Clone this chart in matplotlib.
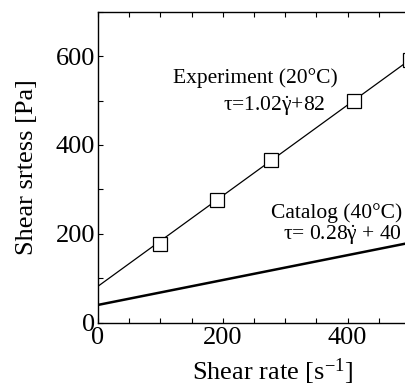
import matplotlib
matplotlib.use("Agg")
import matplotlib.pyplot as plt
from matplotlib.ticker import MultipleLocator

plt.rcParams['font.family'] = ['Liberation Serif', 'DejaVu Serif']
plt.rcParams['mathtext.fontset'] = 'custom'
plt.rcParams['mathtext.rm'] = 'Liberation Serif'
plt.rcParams['mathtext.it'] = 'Liberation Serif:italic'

# experiment points (20 C)
exp_rate = [100, 190, 278, 410, 500]
exp_stress = [178, 276, 367, 500, 592]

# fitted / catalog lines, end points
line_rate = [0, 500]
exp_line = [82, 592]
cat_line = [40, 180]

fig = plt.figure(figsize=(4.06, 3.90), dpi=100)
ax = fig.add_axes([0.2414, 0.1726, 0.7685, 0.7974])

ax.plot(line_rate, exp_line, color='black', lw=0.9, zorder=2)
ax.plot(exp_rate, exp_stress, 's', ms=9.5, mfc='white', mec='black', mew=0.9, zorder=3, clip_on=False)
ax.plot(line_rate, cat_line, color='black', lw=1.8, zorder=2)

ax.set_xlim(0, 500)
ax.set_ylim(0, 700)
ax.xaxis.set_major_locator(MultipleLocator(200))
ax.xaxis.set_minor_locator(MultipleLocator(50))
ax.yaxis.set_major_locator(MultipleLocator(200))
ax.yaxis.set_minor_locator(MultipleLocator(100))
ax.tick_params(which='both', direction='in', top=True, right=True, length=3.6, width=0.8, labelsize=19)
ax.tick_params(axis='x', pad=3)
ax.tick_params(axis='y', pad=2)
for s in ax.spines.values():
    s.set_linewidth(1.0)

ax.set_xlabel(r'Shear rate [s$^{-1}$]', fontsize=19)
ax.xaxis.set_label_coords(0.559, -0.11)
ax.set_ylabel('Shear srtess [Pa]', fontsize=19, labelpad=13)

ax.text(252, 540, 'Experiment (20°C)', fontsize=15.5, ha='center', va='baseline')
ax.text(283, 476, r'τ=1.02$\dot{\mathrm{\gamma}}$+82', fontsize=15.5, ha='center', va='baseline')
ax.text(487, 236, 'Catalog (40°C)', fontsize=15.5, ha='right', va='baseline')
ax.text(487, 186, r'τ= 0.28$\dot{\mathrm{\gamma}}$ + 40', fontsize=15.5, ha='right', va='baseline')

fig.savefig('out.png', dpi=100)
